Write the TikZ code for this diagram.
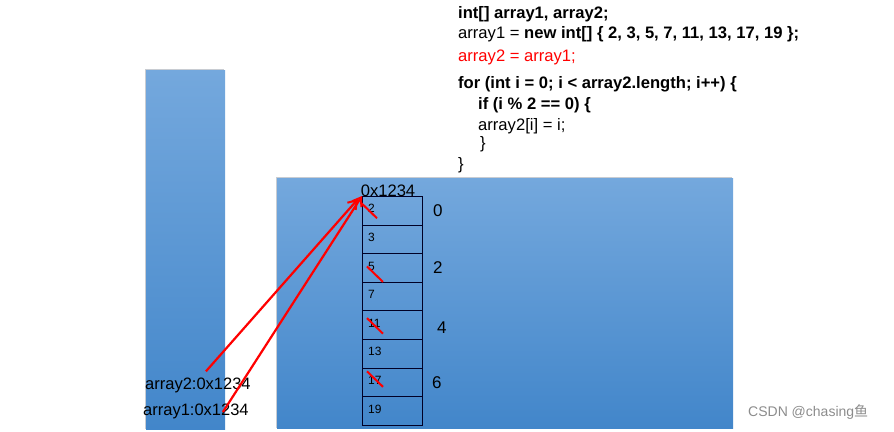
\documentclass[tikz,border=0pt]{standalone}
\usepackage{fontspec}
\setmainfont{Liberation Sans}
\newfontfamily\cjk{Noto Sans CJK SC}
\usetikzlibrary{arrows.meta,calc,positioning}
\definecolor{memTop}{RGB}{116,168,221}
\definecolor{memBot}{RGB}{66,134,202}
\definecolor{memShadow}{RGB}{200,204,210}
\definecolor{ptrRed}{RGB}{255,0,0}
\definecolor{markGray}{RGB}{140,140,140}

\begin{document}
\begin{tikzpicture}[x=1pt,y=-1pt,
  mem/.style={top color=memTop,bottom color=memBot,draw=none},
  cell/.style={draw=black!85!blue,line width=0.9pt,minimum width=60pt,
               minimum height=28.6pt,inner sep=0pt,anchor=north west},
  val/.style={anchor=west,inner sep=0pt,font=\fontsize{12}{14}\selectfont},
  idx/.style={inner sep=0pt,font=\fontsize{17}{19}\selectfont},
  addr/.style={anchor=west,inner sep=0pt,font=\fontsize{16.5}{19}\selectfont},
  code/.style={anchor=base west,inner sep=0pt,font=\fontsize{16.6}{19}\selectfont},
  ptr/.style={ptrRed,line width=2.2pt,-{Straight Barb[length=8pt,width=11pt,line width=2pt]}},
  strike/.style={ptrRed,line width=2pt}]
\useasboundingbox (0,0) rectangle (894,431);

% stack and heap
\fill[memShadow] (144.5,69) rectangle (224,429);
\shade[mem] (146,70) rectangle (225,429);
\fill[memShadow] (275.5,177) rectangle (732,428);
\shade[mem] (277,178) rectangle (733,428);

% code
\node[code] (l1) at (458,18.5) {\textbf{int[] array1, array2;}};
\node[code] (l2) at (458,38) {array1 = \textbf{new int[] \{ 2, 3, 5, 7, 11, 13, 17, 19 \};}};
\node[code,ptrRed] (l3) at (458,61) {array2 = array1;};
\node[code] (l4) at (458,88.5) {\textbf{for (int i = 0; i < array2.length; i++) \{}};
\node[code] (l5) at (478,109) {\textbf{if (i \% 2 == 0) \{}};
\node[code] (l6) at (478,130) {array2[i] = i;};
\node[code] (l7) at (480,148.5) {\}};
\node[code] (l8) at (458,169.5) {\}};

% array cells
\foreach \v [count=\i from 0] in {2,3,5,7,11,13,17,19}{
  \node[cell] (c\i) at (362,196+28.6*\i) {};
  \node[val] at ($(c\i.west)+(6,-2)$) {\v};
}
\node[code,anchor=base] (adr) at (388,196.5) {0x1234};
\foreach \k/\dx/\dy in {0/15/0,2/15/0,4/19/2,6/14/0}
  \node[idx] at ($(c\k.east)+(\dx,\dy)$) {\k};
\foreach \k/\dx/\dy in {0/-1/-8,2/5/-1.5,4/5/-7,6/5/-11}
  \draw[strike] ($(c\k.west)+(\dx,\dy)$) -- ++(16,15.5);

% references
\node[addr] (a2) at (145,385) {array2:0x1234};
\node[addr] (a1) at (143,411) {array1:0x1234};
\coordinate (s2) at ($(a2.north)+(8,-6)$);
\coordinate (s1) at ($(a1.east)+(-26,1)$);
\draw[ptr] (s2) -- ($(c0.north west)+(-4,3)$);
\draw[ptr] (s1) -- ($(c0.north west)+(0,0)$);

\node[anchor=west,inner sep=0pt,markGray,font=\fontsize{14}{16}\selectfont] (wm) at (748,412) {CSDN @chasing{\cjk 鱼}};
\end{tikzpicture}
\end{document}
